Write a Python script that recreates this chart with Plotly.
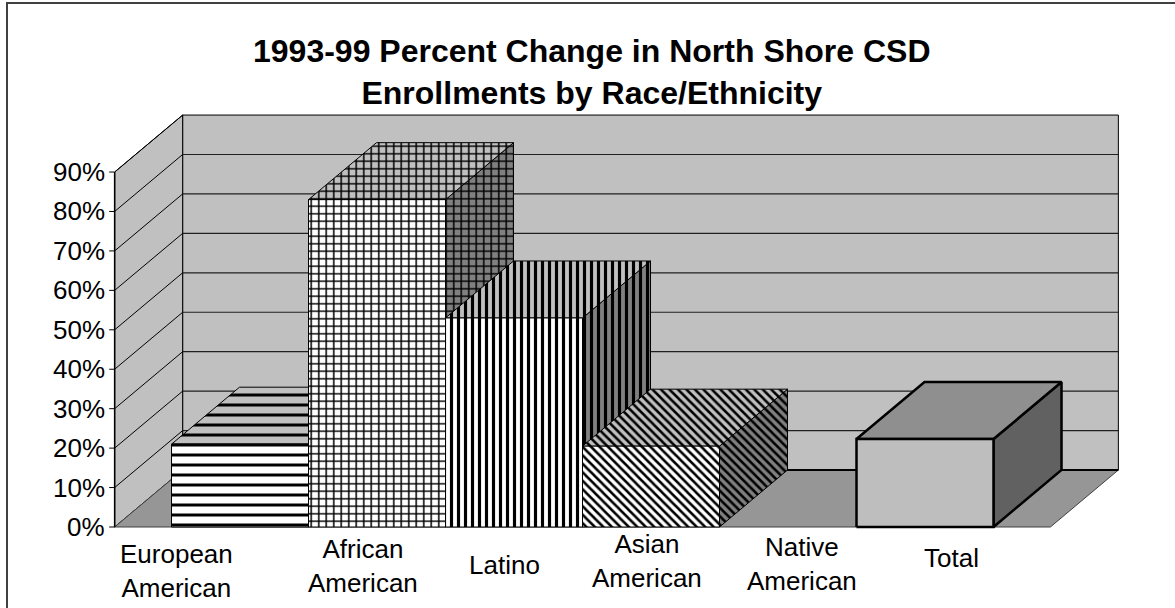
import plotly.graph_objects as go

# ---------------- data ----------------
categories = ["European<br>American", "African<br>American", "Latino",
              "Asian<br>American", "Native<br>American", "Total"]
pct_change = [21, 83, 53, 20.5, 0, 22.3]
tick_values = [0, 10, 20, 30, 40, 50, 60, 70, 80, 90]
tick_labels = ["0%", "10%", "20%", "30%", "40%", "50%", "60%", "70%", "80%", "90%"]
title_text = "1993-99 Percent Change in North Shore CSD<br>Enrollments by Race/Ethnicity"

# ---------------- styling / geometry ----------------
W, H = 1175, 608
BAR_W = 1.0            # bar width in category units
DX, DY = 0.4964, 14.45  # 3-D depth offset (category units, percent units)
FLOOR_PAD = 0.415
Y_MAX = 90
FONT = "Liberation Sans, Arial, sans-serif"

# per-bar patterns: (shape, size, solidity)
patterns = [("-", 10, 0.3), ("+", 7.5, 0.36), ("|", 7, 0.45),
            ("\\", 6, 0.42), ("", 0, 0), ("", 0, 0)]
label_dx = [-0.46, -0.10, -0.07, -0.03, 0.10, 0.19]   # label offset from bar centre
label_y = [-11.2, -9.9, -9.6, -8.6, -9.4, -7.9]

fig = go.Figure()


def poly(xs, ys, fill, line_color="black", lw=1, pat=None, fg="black"):
    kw = {}
    if pat and pat[0]:
        kw["fillpattern"] = dict(shape=pat[0], size=pat[1], solidity=pat[2],
                                 bgcolor=fill, fgcolor=fg, fillmode="replace")
    fig.add_trace(go.Scatter(
        x=list(xs) + [xs[0]], y=list(ys) + [ys[0]], mode="lines",
        fill="toself", fillcolor=fill,
        line=dict(color=line_color, width=lw), hoverinfo="skip", **kw))


def line(xs, ys, color="black", lw=1):
    fig.add_trace(go.Scatter(x=xs, y=ys, mode="lines",
                             line=dict(color=color, width=lw), hoverinfo="skip"))


n = len(categories)
xl = -BAR_W / 2 - FLOOR_PAD
xr = (n - 1) + BAR_W / 2 + FLOOR_PAD

# walls and floor
poly([xl + DX, xr + DX, xr + DX, xl + DX], [DY, DY, Y_MAX + DY, Y_MAX + DY], "#c0c0c0")
poly([xl, xl + DX, xl + DX, xl], [0, DY, Y_MAX + DY, Y_MAX], "#c0c0c0")
poly([xl, xr, xr + DX, xl + DX], [0, 0, DY, DY], "#969696", line_color="#404040")

# gridlines
for v in tick_values[1:-1]:
    line([xl + DX, xr + DX], [v + DY, v + DY], "#202020", 1.2)
for v in tick_values[1:]:
    line([xl, xl + DX], [v, v + DY], "black", 1)
line([xl + DX, xr + DX], [DY, DY], "black", 2)
line([xl, xl], [0, Y_MAX], "black", 1.5)

# tick marks and labels
for v, t in zip(tick_values, tick_labels):
    line([xl - 0.04, xl], [v, v], "black", 1)
    fig.add_annotation(x=xl - 0.055, y=v, text=t, showarrow=False, xanchor="right",
                       yanchor="middle", font=dict(family=FONT, size=26, color="black"))

# bars
for i, val in enumerate(pct_change):
    if val <= 0:
        continue
    x0, x1 = i - BAR_W / 2, i + BAR_W / 2
    pat = patterns[i]
    solid = not pat[0]
    lw = 2.5 if solid else 1
    # side
    poly([x1, x1 + DX, x1 + DX, x1], [0, DY, val + DY, val],
         "#616161" if solid else "#808080", lw=lw, pat=pat)
    # top
    poly([x0, x1, x1 + DX, x0 + DX], [val, val, val + DY, val + DY],
         "#8f8f8f" if solid else "#c0c0c0", lw=lw, pat=pat)
    # front
    poly([x0, x1, x1, x0], [0, 0, val, val],
         "#bebebe" if solid else "white", lw=lw, pat=pat)

# category labels
for i, c in enumerate(categories):
    fig.add_annotation(x=i + label_dx[i], y=label_y[i], text=c, showarrow=False,
                       xanchor="center", yanchor="middle",
                       font=dict(family=FONT, size=26, color="black"))

# title
fig.add_annotation(xref="paper", yref="paper", x=592 / W, y=1 - 72 / H,
                   text="<b>" + title_text.replace("<br>", "</b><br><b>") + "</b>",
                   showarrow=False, xanchor="center", yanchor="middle",
                   font=dict(family=FONT, size=32, color="black"))

# outer frame
fig.add_shape(type="rect", xref="paper", yref="paper", x0=7 / W, x1=1.02,
              y0=-0.02, y1=1 - 3 / H, line=dict(color="#404040", width=2))

fig.update_layout(
    width=W, height=H, margin=dict(l=0, r=0, t=0, b=0),
    paper_bgcolor="white", plot_bgcolor="white", showlegend=False,
    xaxis=dict(range=[-240 / 137, (W - 240) / 137], visible=False, fixedrange=True),
    yaxis=dict(range=[-81 / 3.944, 527 / 3.944], visible=False, fixedrange=True),
)

fig.write_html("out.html")
